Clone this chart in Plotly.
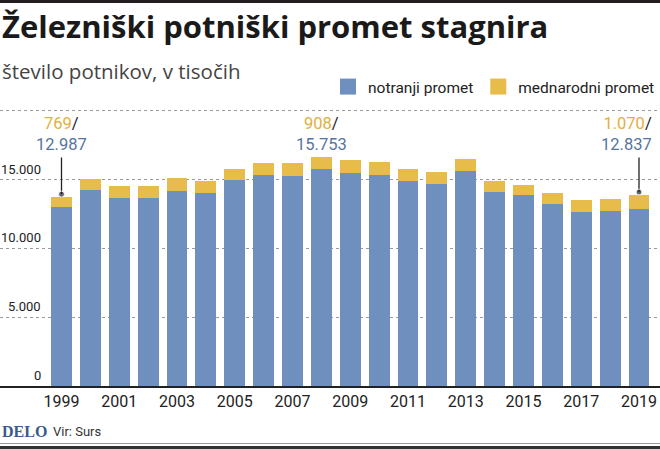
import plotly.graph_objects as go

# ---- data ----
years = list(range(1999, 2020))
domestic = [12987, 14213, 13630, 13630, 14164, 13994, 14966, 15306, 15257, 15753,
            15476, 15330, 14893, 14674, 15598, 14091, 13848, 13241, 12609, 12706, 12837]
international = [769, 825, 875, 920, 923, 899, 802, 875, 924, 908,
                 923, 948, 850, 875, 875, 802, 729, 802, 875, 875, 1070]
callout_years = [1999, 2008, 2019]
pointer_years = [1999, 2019]
y_tick_vals = [0, 5000, 10000, 15000]
y_tick_text = ["0", "5.000", "10.000", "15.000"]
grid_vals = [5000, 10000, 15000, 20000]
x_tick_vals = list(range(1999, 2020, 2))
x_tick_text = [str(y) for y in x_tick_vals]

# ---- style ----
W, H = 660, 449
TOP, BOT = 100, 386          # plot area top / bottom in px
PXPU = 0.013765              # px per unit
BLUE = "#6f8fbf"
YELLOW = "#e8bc4a"
BLUE_T = "#56749f"
YELLOW_T = "#e0b040"
DARK = "#222222"
FONT = "Open Sans, Noto Sans, sans-serif"
NUM = "Roboto, sans-serif"

def py(px):
    return (BOT - px) / (BOT - TOP)

x_lo = 1999 - 61.5 / 28.875
x_hi = x_lo + W / 28.875
y_hi = (BOT - TOP) / PXPU

def fmt(v):
    return f"{v:,}".replace(",", ".")

fig = go.Figure()
fig.add_bar(x=years, y=domestic, name="notranji promet", marker_color=BLUE,
            marker_line_width=0, showlegend=False)
fig.add_bar(x=years, y=international, name="mednarodni promet", marker_color=YELLOW,
            marker_line_width=0, showlegend=False)
# legend proxies
fig.add_scatter(x=[None], y=[None], mode="markers", name="notranji promet",
                marker=dict(symbol="square", size=16, color=BLUE))
fig.add_scatter(x=[None], y=[None], mode="markers", name="mednarodni promet",
                marker=dict(symbol="square", size=16, color=YELLOW))

# pointer lines
for yr in pointer_years:
    i = years.index(yr)
    total = domestic[i] + international[i]
    fig.add_scatter(x=[yr, yr], y=[16600, total + 180], mode="lines+markers",
                    line=dict(color=DARK, width=1.3),
                    marker=dict(size=[0, 6], color=DARK),
                    showlegend=False, hoverinfo="skip")

ann = []
for yr in callout_years:
    i = years.index(yr)
    txt = (f"<span style='color:{YELLOW_T}'>{fmt(international[i])}</span>"
           f"<span style='color:{DARK}'>/</span><br>"
           f"<span style='color:{BLUE_T}'>{fmt(domestic[i])}</span>")
    if yr == years[-1]:
        xa, al, sh = "right", "right", 15
    else:
        xa, al, sh = "center", "center", 0
    ann.append(dict(x=yr, y=py(155.5), xref="x", yref="paper", text=txt, showarrow=False,
                    xanchor=xa, yanchor="bottom", xshift=sh, align=al,
                    font=dict(family=NUM, size=16.5)))

for v, t in zip(y_tick_vals, y_tick_text):
    ann.append(dict(x=43 / W, y=v, xref="paper", yref="y", text=t, showarrow=False,
                    xanchor="right", yanchor="bottom", yshift=1,
                    font=dict(family=NUM, size=13, color=DARK)))

ann.append(dict(x=0, y=py(25.5), xref="paper", yref="paper", xanchor="left", yanchor="middle",
                text="<b>Železniški potniški promet stagnira</b>", showarrow=False,
                font=dict(family=FONT, size=31, color="#1a1a1a")))
ann.append(dict(x=0, y=py(71), xref="paper", yref="paper", xanchor="left", yanchor="middle",
                text="število potnikov, v tisočih", showarrow=False,
                font=dict(family=FONT, size=20.5, color="#444444")))
ann.append(dict(x=0, y=py(431), xref="paper", yref="paper", xanchor="left", yanchor="middle",
                text="<b>DELO</b>", showarrow=False,
                font=dict(family="Liberation Serif, serif", size=16, color="#3a5a8c")))
ann.append(dict(x=51 / W, y=py(431), xref="paper", yref="paper", xanchor="left", yanchor="middle",
                text="Vir: Surs", showarrow=False,
                font=dict(family=NUM, size=13, color="#333333")))

shapes = [
    dict(type="rect", xref="paper", yref="paper", x0=0, x1=1, y0=py(0), y1=py(3),
         fillcolor="#231f20", line_width=0),
    dict(type="line", xref="paper", yref="paper", x0=0, x1=1, y0=py(443.5), y1=py(443.5),
         line=dict(color="#9a9a9a", width=1)),
    dict(type="rect", xref="paper", yref="paper", x0=0, x1=1, y0=py(446), y1=py(449),
         fillcolor="#333333", line_width=0),
]

fig.update_layout(
    width=W, height=H,
    margin=dict(l=0, r=0, t=TOP, b=H - BOT, pad=0),
    paper_bgcolor="white", plot_bgcolor="white",
    barmode="stack", bargap=0.28,
    font=dict(family=FONT, color=DARK),
    legend=dict(orientation="h", x=1, xanchor="right", y=py(87), yanchor="middle",
                traceorder="normal",
                font=dict(family=NUM, size=15.5, color=DARK), bgcolor="rgba(0,0,0,0)",
                itemclick=False),
    annotations=ann,
    shapes=shapes,
    xaxis=dict(range=[x_lo, x_hi], tickvals=x_tick_vals, ticktext=x_tick_text,
               showgrid=False, zeroline=False, showline=True, linecolor=DARK, linewidth=1.5,
               ticks="", tickfont=dict(family=NUM, size=16, color=DARK), fixedrange=True),
    yaxis=dict(range=[0, y_hi], tickvals=grid_vals, showticklabels=False,
               showgrid=True, gridcolor="#9a9a9a", griddash="dot", gridwidth=1,
               zeroline=False, showline=False, fixedrange=True),
)

fig.write_html("out.html")
